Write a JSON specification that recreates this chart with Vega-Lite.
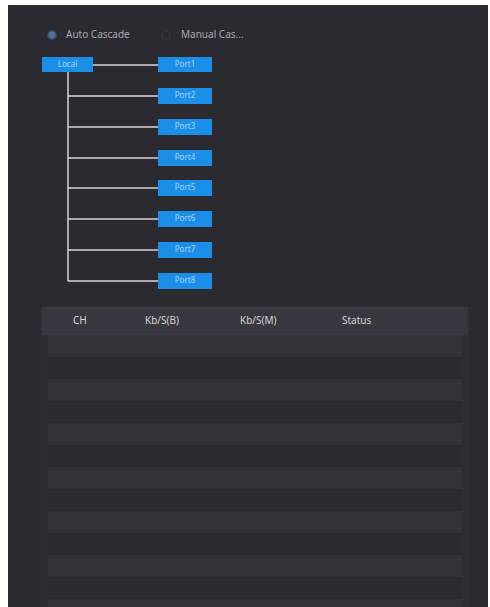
{
  "$schema": "https://vega.github.io/schema/vega-lite/v6.json",
  "width": 490,
  "height": 607,
  "autosize": {"type": "fit", "contains": "padding"},
  "padding": 0,
  "background": "#ffffff",
  "config": {"view": {"stroke": null}},
  "resolve": {"scale": {"color": "independent", "fill": "independent"}},
  "datasets": {
    "rects": [
      {"kind": "panel", "x": 8, "x2": 488, "y": 5, "y2": 607},
      {"kind": "table", "x": 40, "x2": 470, "y": 307, "y2": 607},
      {"kind": "header", "x": 42, "x2": 468, "y": 307, "y2": 335},
      {"kind": "rowLight", "x": 48, "x2": 462, "y": 335, "y2": 357},
      {"kind": "rowDark", "x": 48, "x2": 462, "y": 357, "y2": 379},
      {"kind": "rowLight", "x": 48, "x2": 462, "y": 379, "y2": 401},
      {"kind": "rowDark", "x": 48, "x2": 462, "y": 401, "y2": 423},
      {"kind": "rowLight", "x": 48, "x2": 462, "y": 423, "y2": 445},
      {"kind": "rowDark", "x": 48, "x2": 462, "y": 445, "y2": 467},
      {"kind": "rowLight", "x": 48, "x2": 462, "y": 467, "y2": 489},
      {"kind": "rowDark", "x": 48, "x2": 462, "y": 489, "y2": 511},
      {"kind": "rowLight", "x": 48, "x2": 462, "y": 511, "y2": 533},
      {"kind": "rowDark", "x": 48, "x2": 462, "y": 533, "y2": 555},
      {"kind": "rowLight", "x": 48, "x2": 462, "y": 555, "y2": 577},
      {"kind": "rowDark", "x": 48, "x2": 462, "y": 577, "y2": 599},
      {"kind": "rowLight", "x": 48, "x2": 462, "y": 599, "y2": 607},
      {"kind": "node", "x": 42, "x2": 93, "y": 57, "y2": 72},
      {"kind": "node", "x": 158, "x2": 212, "y": 57, "y2": 72},
      {"kind": "node", "x": 158, "x2": 212, "y": 88, "y2": 104},
      {"kind": "node", "x": 158, "x2": 212, "y": 119, "y2": 135},
      {"kind": "node", "x": 158, "x2": 212, "y": 150, "y2": 166},
      {"kind": "node", "x": 158, "x2": 212, "y": 180, "y2": 196},
      {"kind": "node", "x": 158, "x2": 212, "y": 211, "y2": 227},
      {"kind": "node", "x": 158, "x2": 212, "y": 242, "y2": 258},
      {"kind": "node", "x": 158, "x2": 212, "y": 273, "y2": 289}
    ],
    "lines": [
      {"x": 68, "x2": 68, "y": 72, "y2": 281},
      {"x": 93, "x2": 158, "y": 65, "y2": 65},
      {"x": 68, "x2": 158, "y": 96, "y2": 96},
      {"x": 68, "x2": 158, "y": 127, "y2": 127},
      {"x": 68, "x2": 158, "y": 158, "y2": 158},
      {"x": 68, "x2": 158, "y": 188, "y2": 188},
      {"x": 68, "x2": 158, "y": 219, "y2": 219},
      {"x": 68, "x2": 158, "y": 250, "y2": 250},
      {"x": 68, "x2": 158, "y": 281, "y2": 281}
    ],
    "radios": [
      {"option": "Auto Cascade", "state": "on", "x": 52, "y": 35},
      {"option": "Manual Cascade", "state": "off", "x": 166, "y": 35}
    ],
    "labels": [
      {"role": "radio", "text": "Auto Cascade", "x": 66, "y": 35},
      {"role": "radio", "text": "Manual Cas...", "x": 181, "y": 35},
      {"role": "header", "text": "CH", "x": 73, "y": 321},
      {"role": "header", "text": "Kb/S(B)", "x": 145, "y": 321},
      {"role": "header", "text": "Kb/S(M)", "x": 240, "y": 321},
      {"role": "header", "text": "Status", "x": 342, "y": 321}
    ],
    "nodeLabels": [
      {"text": "Local", "x": 67.5, "y": 64.5},
      {"text": "Port1", "x": 185, "y": 64.5},
      {"text": "Port2", "x": 185, "y": 96},
      {"text": "Port3", "x": 185, "y": 127},
      {"text": "Port4", "x": 185, "y": 158},
      {"text": "Port5", "x": 185, "y": 188},
      {"text": "Port6", "x": 185, "y": 219},
      {"text": "Port7", "x": 185, "y": 250},
      {"text": "Port8", "x": 185, "y": 281}
    ]
  },
  "layer": [
    {
      "data": {"name": "rects"},
      "mark": {"type": "rect"},
      "encoding": {
        "x": {"field": "x", "type": "quantitative", "scale": {"domain": [0, 490], "nice": false, "zero": false}, "axis": null},
        "x2": {"field": "x2"},
        "y": {"field": "y", "type": "quantitative", "scale": {"domain": [0, 607], "nice": false, "zero": false, "reverse": true}, "axis": null},
        "y2": {"field": "y2"},
        "color": {
          "field": "kind",
          "type": "nominal",
          "scale": {
            "domain": ["panel", "table", "header", "rowLight", "rowDark", "node"],
            "range": ["#2b2a30", "#2e2d33", "#393840", "#333239", "#2b2a30", "#1b8fe8"]
          },
          "legend": null
        }
      }
    },
    {
      "data": {"name": "lines"},
      "mark": {"type": "rule", "color": "#d6d6d8", "strokeWidth": 1.5},
      "encoding": {
        "x": {"field": "x", "type": "quantitative"},
        "x2": {"field": "x2"},
        "y": {"field": "y", "type": "quantitative"},
        "y2": {"field": "y2"}
      }
    },
    {
      "data": {"name": "radios"},
      "mark": {"type": "point", "filled": false, "size": 70, "strokeWidth": 1.5},
      "encoding": {
        "x": {"field": "x", "type": "quantitative"},
        "y": {"field": "y", "type": "quantitative"},
        "stroke": {
          "field": "state",
          "type": "nominal",
          "scale": {"domain": ["on", "off"], "range": ["#3b5a86", "#3d3c44"]},
          "legend": null
        },
        "fill": {
          "field": "state",
          "type": "nominal",
          "scale": {"domain": ["on", "off"], "range": ["#6a8fc0", "#2b2a30"]},
          "legend": null
        }
      }
    },
    {
      "data": {"name": "labels"},
      "mark": {"type": "text", "align": "left", "baseline": "middle", "font": "Noto Sans", "fontSize": 10},
      "encoding": {
        "x": {"field": "x", "type": "quantitative"},
        "y": {"field": "y", "type": "quantitative"},
        "text": {"field": "text"},
        "color": {
          "field": "role",
          "type": "nominal",
          "scale": {"domain": ["radio", "header"], "range": ["#a9a9ad", "#d4d4d8"]},
          "legend": null
        }
      }
    },
    {
      "data": {"name": "nodeLabels"},
      "mark": {"type": "text", "align": "center", "baseline": "middle", "font": "Noto Sans", "fontSize": 8, "color": "#a9d4f7"},
      "encoding": {
        "x": {"field": "x", "type": "quantitative"},
        "y": {"field": "y", "type": "quantitative"},
        "text": {"field": "text"}
      }
    }
  ]
}
